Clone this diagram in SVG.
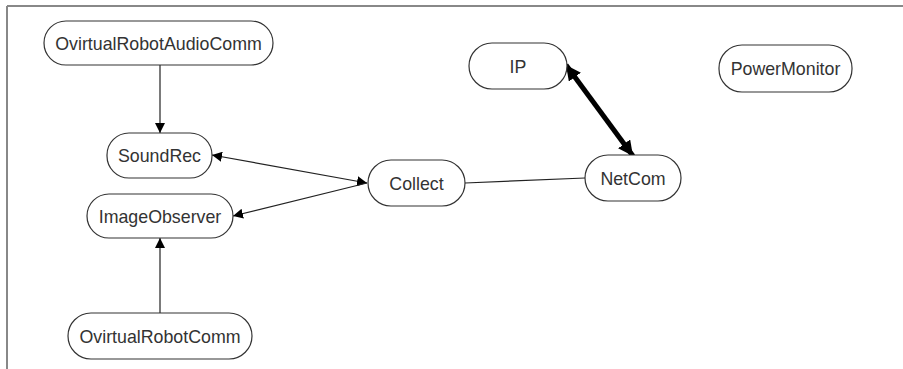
<svg xmlns="http://www.w3.org/2000/svg" width="903" height="369" viewBox="0 0 903 369">
<style>
.n rect{fill:#fff;stroke:#333;stroke-width:1.2}
.n text{font-family:"Liberation Sans",Arial,sans-serif;font-size:17.8px;fill:#333;text-anchor:middle}
.c line{stroke:#222;stroke-width:1.2}
.c line.thick{stroke:#000;stroke-width:5}
</style>
<defs>
<marker id="a" viewBox="0 0 10 10" refX="10" refY="5" markerWidth="10" markerHeight="10" markerUnits="userSpaceOnUse" orient="auto-start-reverse"><path d="M0,0 L10,5 L0,10 z" fill="#000"/></marker>
<marker id="b" viewBox="0 0 10 10" refX="10" refY="5" markerWidth="3" markerHeight="3" orient="auto-start-reverse"><path d="M0,0 L10,5 L0,10 z" fill="#000"/></marker>
</defs>
<rect width="903" height="369" fill="#fff"/>
<line x1="7" y1="6" x2="903" y2="6" stroke="#888" stroke-width="2"/>
<line x1="7" y1="6" x2="7" y2="369" stroke="#888" stroke-width="2"/>
<g class="c">
<line x1="160" y1="65" x2="160" y2="133" marker-end="url(#a)"/>
<line x1="212" y1="155" x2="367" y2="183" marker-start="url(#a)" marker-end="url(#a)"/>
<line x1="233" y1="216" x2="367" y2="183" marker-start="url(#a)"/>
<line x1="465" y1="183" x2="585" y2="178"/>
<line class="thick" x1="566" y1="65" x2="633" y2="156" marker-start="url(#b)" marker-end="url(#b)"/>
<line x1="160" y1="313" x2="160" y2="238" marker-end="url(#a)"/>
</g>
<g id="OvirtualRobotAudioComm" class="n"><rect x="44" y="21" width="229" height="44" rx="22"/><text x="158.5" y="49.5">OvirtualRobotAudioComm</text></g>
<g id="SoundRec" class="n"><rect x="107" y="133" width="105" height="45" rx="22"/><text x="159.5" y="162">SoundRec</text></g>
<g id="ImageObserver" class="n"><rect x="87" y="194" width="146" height="44" rx="22"/><text x="160" y="222.5">ImageObserver</text></g>
<g id="Collect" class="n"><rect x="368" y="160" width="97" height="46" rx="23"/><text x="416.5" y="189.5">Collect</text></g>
<g id="NetCom" class="n"><rect x="585" y="155" width="96" height="46" rx="23"/><text x="633" y="184.5">NetCom</text></g>
<g id="IP" class="n"><rect x="469" y="43" width="98" height="46" rx="23"/><text x="518" y="72.5">IP</text></g>
<g id="PowerMonitor" class="n"><rect x="719" y="45" width="133" height="47" rx="23"/><text x="785.5" y="74.5">PowerMonitor</text></g>
<g id="OvirtualRobotComm" class="n"><rect x="68" y="313" width="184" height="46" rx="23"/><text x="160" y="342.5">OvirtualRobotComm</text></g>
</svg>
